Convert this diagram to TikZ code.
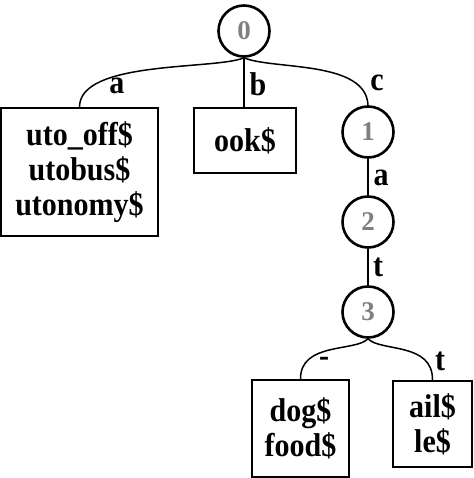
\documentclass[tikz,border=0pt]{standalone}
\usepackage{fontspec}
\setmainfont{Liberation Serif}
\newfontfamily\tallserif[FakeStretch=0.91]{Liberation Serif}
\usepackage{xcolor}
\usepackage{tikz}
\definecolor{ink}{HTML}{000000}
\definecolor{idgray}{HTML}{7F7F7F}
\tikzset{
  state/.style={circle, draw=ink, line width=2.6pt, minimum size=51pt, inner sep=0pt,
    text=idgray, font=\fontsize{27}{30}\bfseries\selectfont},
  leaf/.style={rectangle, draw=ink, line width=1.5pt, inner sep=0pt, align=center,
    font=\tallserif\fontsize{33}{35}\bfseries\selectfont},
  edge/.style={draw=ink, line width=1.5pt},
  elbl/.style={text=ink, inner sep=0pt, font=\tallserif\fontsize{33}{33}\bfseries\selectfont}
}

\begin{document}
\begin{tikzpicture}[x=1pt, y=-1pt]
  \useasboundingbox (0,0) rectangle (473,478);

  % states of the trie
  \node[state] (s0) at (244,31) {0};
  \node[state] (s1) at (368,132) {1};
  \node[state] (s2) at (368,222) {2};
  \node[state] (s3) at (368,312) {3};

  % suffix buckets
  \node[leaf, minimum width=157pt, minimum height=128pt] (la) at (79.5,172) {uto\_off\$\\utobus\$\\utonomy\$};
  \node[leaf, minimum width=102pt, minimum height=65pt] (lb) at (245,140.5) {ook\$};
  \node[leaf, minimum width=97pt, minimum height=97pt] (ld) at (300.5,428.5) {dog\$\\food\$};
  \node[leaf, minimum width=79pt, minimum height=86pt] (lt) at (432.5,424) {ail\$\\le\$};

  % branches
  \draw[edge] (s0.south) .. controls (215,70) and (79,60) .. (la.north);
  \draw[edge] (s0.south) -- (s0.south |- lb.north);
  \draw[edge] (s0.south) .. controls (273,70) and (366,60) .. (s1.north);
  \draw[edge] (s1) -- (s2);
  \draw[edge] (s2) -- (s3);
  \draw[edge] (s3.south) .. controls (355,352) and (300,342) .. (ld.north);
  \draw[edge] (s3.south) .. controls (381,352) and (433,342) .. (lt.north);

  % branch letters
  \node[elbl] (ea) at (117,86) {a};
  \node[elbl] (eb) at (258,84) {b};
  \node[elbl] (ec) at (377,83) {c};
  \node[elbl] (e12) at (381,178) {a};
  \node[elbl] (e23) at (378,267) {t};
  \node[elbl] (edash) at (324,362) {-};
  \node[elbl] (et) at (440,361) {t};
\end{tikzpicture}
\end{document}
